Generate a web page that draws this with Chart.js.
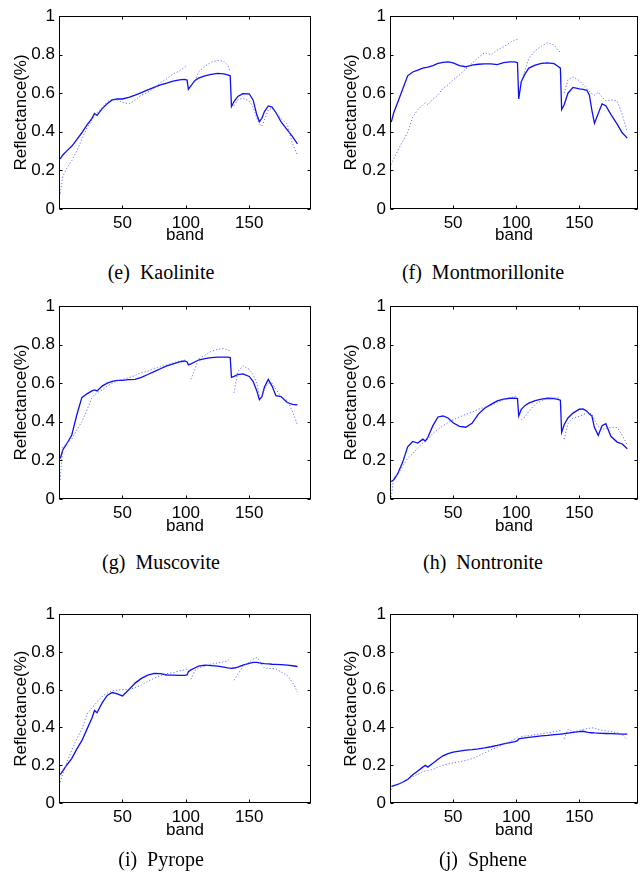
<!DOCTYPE html>
<html>
<head>
<meta charset="utf-8">
<script src="https://cdn.jsdelivr.net/npm/chart.js@4.4.1/dist/chart.umd.min.js"></script>
<style>
html,body{margin:0;padding:0;background:#fff;}
body{width:644px;height:879px;position:relative;overflow:hidden;}
canvas{position:absolute;}
.cap{position:absolute;width:322px;text-align:center;font-family:"Liberation Serif","Times New Roman",serif;font-size:20px;line-height:22px;color:#000;white-space:pre;}
</style>
</head>
<body>
<script>
// ---------------- DATA ----------------
const bands = [1,3,6,10,14,18,22,26,28,30,34,38,42,46,50,55,60,65,70,75,80,85,90,95,99,101,102,104,107,110,115,120,125,130,133,135,136,138,141,145,150,153,156,158,160,162,165,168,171,175,180,184,188];
const xTicks = [50,100,150];
const yTicks = [0,0.2,0.4,0.6,0.8,1];

const kaoliniteEst = [0.26,0.28,0.30,0.325,0.36,0.395,0.435,0.47,0.495,0.485,
  0.52,0.545,0.565,0.57,0.57,0.578,0.59,0.603,0.617,0.63,
  0.643,0.652,0.662,0.669,0.672,0.668,0.62,0.638,0.665,0.678,
  0.69,0.698,0.703,0.70,0.695,0.69,0.531,0.557,0.583,0.598,
  0.597,0.565,0.488,0.453,0.47,0.505,0.534,0.528,0.50,0.453,
  0.41,0.376,0.338];
const kaoliniteLib = [0.08,0.17,0.21,0.25,0.30,0.36,0.42,0.46,0.48,0.50,
  0.525,0.555,0.57,0.565,0.553,0.545,0.565,0.59,0.605,0.625,
  0.655,0.675,0.70,0.715,0.735,0.745,null,0.64,0.66,0.71,
  0.74,0.76,0.77,0.765,0.745,0.71,null,0.535,0.565,0.575,
  0.56,0.53,0.47,0.44,0.43,0.46,0.515,0.52,0.50,0.47,
  0.44,0.34,0.28];

const montmorilloniteEst = [0.45,0.50,0.55,0.62,0.69,0.71,0.72,0.73,0.733,0.735,
  0.743,0.755,0.76,0.762,0.757,0.743,0.737,0.745,0.75,0.752,
  0.752,0.748,0.758,0.762,0.762,0.758,0.57,0.66,0.70,0.73,
  0.745,0.755,0.757,0.753,0.74,0.73,0.515,0.54,0.60,0.63,
  0.622,0.62,0.615,0.59,0.51,0.445,0.495,0.545,0.535,0.49,
  0.44,0.395,0.367];
const montmorilloniteLib = [0.23,0.26,0.30,0.35,0.397,0.476,0.514,0.54,0.552,0.54,
  0.569,0.591,0.626,0.643,0.669,0.695,0.725,0.755,0.785,0.81,
  0.80,0.824,0.841,0.862,0.876,0.879,null,0.66,0.72,0.78,
  0.82,0.845,0.862,0.85,0.825,0.81,null,0.60,0.67,0.685,
  0.665,0.645,0.625,0.61,0.595,0.59,0.605,0.58,0.56,0.565,
  0.56,0.49,0.40];

const muscoviteEst = [0.21,0.255,0.285,0.33,0.435,0.525,0.545,0.56,0.565,0.56,
  0.585,0.60,0.61,0.615,0.615,0.618,0.62,0.63,0.645,0.66,
  0.675,0.69,0.70,0.71,0.715,0.71,0.695,0.70,0.71,0.72,
  0.727,0.733,0.735,0.735,0.735,0.733,0.63,0.635,0.645,0.648,
  0.635,0.61,0.56,0.515,0.53,0.58,0.62,0.585,0.535,0.531,
  0.50,0.49,0.488];
const muscoviteLib = [0.10,0.27,0.29,0.31,0.358,0.40,0.46,0.525,0.54,0.55,
  0.565,0.585,0.60,0.612,0.62,0.628,0.64,0.655,0.662,0.675,
  0.685,0.695,0.705,0.715,0.72,0.715,null,0.62,0.67,0.725,
  0.745,0.765,0.775,0.78,0.772,0.768,null,0.55,0.66,0.69,
  0.672,0.645,0.60,0.535,0.53,0.57,0.60,0.60,0.57,0.53,
  0.51,0.455,0.385];

const nontroniteEst = [0.09,0.10,0.13,0.19,0.27,0.298,0.29,0.31,0.30,0.32,
  0.38,0.425,0.43,0.42,0.395,0.376,0.372,0.392,0.44,0.47,
  0.49,0.508,0.518,0.522,0.523,0.52,0.43,0.465,0.485,0.497,
  0.51,0.517,0.522,0.52,0.516,0.512,0.345,0.385,0.42,0.445,
  0.465,0.467,0.455,0.44,0.43,0.37,0.33,0.38,0.39,0.325,
  0.295,0.285,0.26];
const nontroniteLib = [0.01,0.11,0.125,0.17,0.21,0.235,0.265,0.29,0.30,0.31,
  0.34,0.36,0.38,0.395,0.41,0.425,0.438,0.45,0.465,0.475,
  0.485,0.50,0.515,0.525,0.532,0.535,null,0.41,0.425,0.455,
  0.49,0.51,0.522,0.524,0.524,0.524,null,0.31,0.39,0.42,
  0.428,0.436,0.448,0.445,0.441,0.41,0.375,0.36,0.365,0.372,
  0.37,0.33,0.28];

const pyropeEst = [0.15,0.17,0.20,0.235,0.285,0.33,0.39,0.45,0.49,0.478,
  0.53,0.57,0.585,0.578,0.567,0.60,0.635,0.66,0.677,0.686,
  0.685,0.678,0.677,0.676,0.676,0.678,0.695,0.705,0.715,0.725,
  0.73,0.728,0.725,0.72,0.716,0.714,0.713,0.715,0.72,0.73,
  0.74,0.745,0.745,0.742,0.74,0.738,0.737,0.735,0.734,0.733,
  0.73,0.727,0.723];
const pyropeLib = [0.11,0.155,0.21,0.28,0.34,0.39,0.47,0.505,0.518,0.535,
  0.565,0.582,0.594,0.598,0.60,0.603,0.61,0.625,0.645,0.66,
  0.675,0.685,0.69,0.70,0.705,0.71,null,0.655,0.70,0.715,
  0.725,0.735,0.742,0.748,0.752,0.77,null,0.65,0.68,0.725,
  0.745,0.762,0.77,0.755,0.73,0.715,0.713,0.712,0.71,0.695,
  0.675,0.64,0.588];

const spheneEst = [0.088,0.092,0.098,0.11,0.125,0.15,0.17,0.19,0.20,0.19,
  0.21,0.232,0.25,0.262,0.27,0.275,0.28,0.283,0.287,0.292,
  0.298,0.305,0.313,0.32,0.325,0.33,0.34,0.342,0.345,0.348,
  0.352,0.355,0.358,0.362,0.364,0.365,0.365,0.367,0.37,0.374,
  0.378,0.38,0.375,0.373,0.372,0.371,0.37,0.369,0.368,0.367,
  0.366,0.365,0.365];
const spheneLib = [0.07,0.09,0.10,0.11,0.125,0.14,0.152,0.165,0.17,0.172,
  0.178,0.19,0.20,0.207,0.212,0.218,0.225,0.235,0.25,0.265,
  0.282,0.295,0.31,0.325,0.34,0.35,null,0.352,0.355,0.357,
  0.362,0.367,0.372,0.377,0.38,0.385,null,0.34,0.39,0.378,
  0.383,0.39,0.394,0.396,0.398,0.397,0.39,0.385,0.382,0.378,
  0.372,0.362,0.335];

const captions = ['(e)  Kaolinite','(f)  Montmorillonite','(g)  Muscovite','(h)  Nontronite','(i)  Pyrope','(j)  Sphene'];
const xLabel = 'band';
const yLabel = 'Reflectance(%)';

// ---------------- LAYOUT ----------------
const CW = 322, CH = 250;
const cols = [
  {left:0,   boxLeft:59,  boxRight:311, xMax:198.7, yTitleX:21},
  {left:322, boxLeft:390, boxRight:638, xMax:196.5, yTitleX:29.5}
];
const rows = [
  {top:0,   boxTop:16,  boxBottom:209, bandY:235.5, capY:272},
  {top:290, boxTop:306, boxBottom:499, bandY:526,   capY:562},
  {top:600, boxTop:611, boxBottom:803, bandY:830,   capY:859}
];
const panels = [
  {est:kaoliniteEst, lib:kaoliniteLib, col:0, row:0},
  {est:montmorilloniteEst, lib:montmorilloniteLib, col:1, row:0},
  {est:muscoviteEst, lib:muscoviteLib, col:0, row:1},
  {est:nontroniteEst, lib:nontroniteLib, col:1, row:1},
  {est:pyropeEst, lib:pyropeLib, col:0, row:2},
  {est:spheneEst, lib:spheneLib, col:1, row:2}
];

const FONT = {family:'"Liberation Sans", Arial, Helvetica, sans-serif', size:17};
const LH = FONT.size*1.2;

const boxPlugin = {
  id:'matlabBox',
  afterDraw(chart){
    const {ctx, chartArea:a, scales:{x,y}} = chart;
    ctx.save();
    ctx.strokeStyle = '#000';
    ctx.lineWidth = 1;
    const L = Math.round(a.left)+0.5, R = Math.round(a.right)-0.5;
    const T = Math.round(a.top)+0.5, B = Math.round(a.bottom)-0.5;
    ctx.strokeRect(L, T, R-L, B-T);
    ctx.beginPath();
    const tl = 3;
    x.ticks.forEach(t => {
      const px = Math.round(x.getPixelForValue(t.value))+0.5;
      ctx.moveTo(px,B); ctx.lineTo(px,B-tl);
      ctx.moveTo(px,T); ctx.lineTo(px,T+tl);
    });
    y.ticks.forEach(t => {
      const py = Math.round(y.getPixelForValue(t.value))+0.5;
      ctx.moveTo(L,py); ctx.lineTo(L+tl,py);
      ctx.moveTo(R,py); ctx.lineTo(R-tl,py);
    });
    ctx.stroke();
    ctx.restore();
  }
};

panels.forEach((p, i) => {
  const c = cols[p.col], r = rows[p.row];
  const cv = document.createElement('canvas');
  cv.width = CW; cv.height = CH;
  cv.style.left = c.left+'px'; cv.style.top = r.top+'px';
  cv.style.width = CW+'px'; cv.style.height = CH+'px';
  document.body.appendChild(cv);

  const yAxisW = c.boxLeft - c.left;
  const padRight = (c.left + CW) - c.boxRight;
  const padTop = r.boxTop - r.top;
  const xAxisH = (r.top + CH) - r.boxBottom;

  const estData = bands.map((b,k) => ({x:b, y:p.est[k]}));
  const libData = bands.map((b,k) => ({x:b, y:p.lib[k]}));

  new Chart(cv, {
    type:'line',
    data:{datasets:[
      {data:libData, borderColor:'rgba(70,90,255,0.85)', borderWidth:1, borderDash:[1.2,2], pointRadius:0, tension:0, spanGaps:false},
      {data:estData, borderColor:'rgb(15,15,245)', borderWidth:1.3, pointRadius:0, tension:0, spanGaps:false}
    ]},
    options:{
      responsive:false, animation:false, devicePixelRatio:1,
      layout:{padding:{left:0, right:padRight, top:padTop, bottom:0}},
      plugins:{legend:{display:false}, tooltip:{enabled:false}},
      scales:{
        x:{type:'linear', min:0, max:c.xMax,
          grid:{display:false, drawTicks:false}, border:{display:false},
          afterBuildTicks(s){ s.ticks = xTicks.map(v => ({value:v})); },
          afterFit(s){ s.height = xAxisH; },
          ticks:{font:FONT, color:'#000', padding:4, maxRotation:0, callback:v => String(v)},
          title:{display:true, text:xLabel, font:FONT, color:'#000',
            padding:{top:0, bottom:(r.top+CH) - r.bandY - LH/2}}
        },
        y:{type:'linear', min:0, max:1,
          grid:{display:false, drawTicks:false}, border:{display:false},
          afterBuildTicks(s){ s.ticks = yTicks.map(v => ({value:v})); },
          afterFit(s){ s.width = yAxisW; },
          ticks:{font:FONT, color:'#000', padding:4,
            callback:v => (v===0 ? '0' : v===1 ? '1' : v.toFixed(1))},
          title:{display:true, text:yLabel, font:FONT, color:'#000',
            padding:{top:c.yTitleX - LH/2, bottom:0}}
        }
      }
    },
    plugins:[boxPlugin]
  });

  const cap = document.createElement('div');
  cap.className = 'cap';
  cap.textContent = captions[i];
  cap.style.left = c.left+'px';
  cap.style.top = (r.capY - 11)+'px';
  document.body.appendChild(cap);
});
</script>
</body>
</html>
